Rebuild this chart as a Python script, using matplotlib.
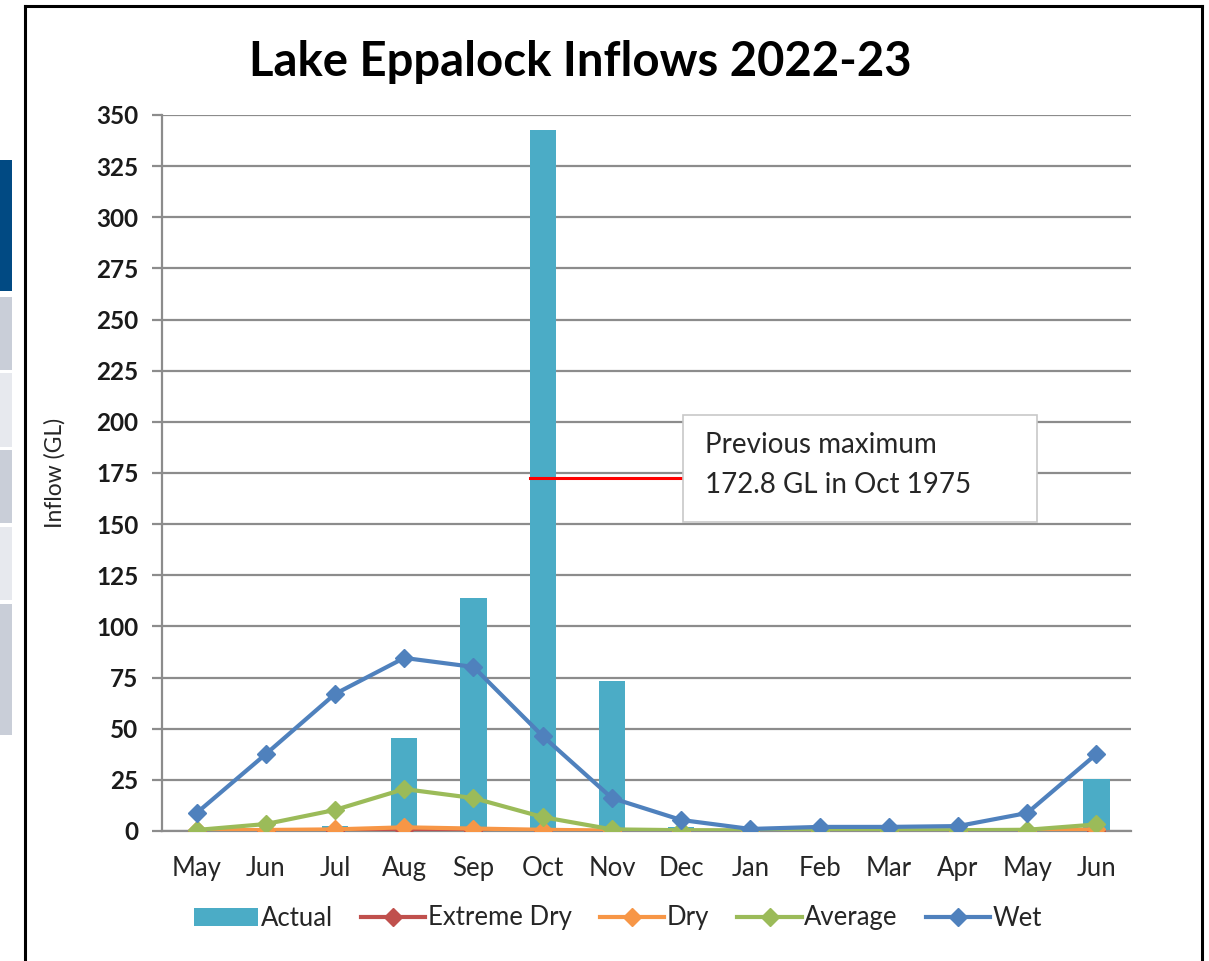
import matplotlib
matplotlib.use("Agg")
import matplotlib.pyplot as plt
from matplotlib.patches import Rectangle
from matplotlib.lines import Line2D

months = ["May", "Jun", "Jul", "Aug", "Sep", "Oct", "Nov", "Dec", "Jan", "Feb", "Mar", "Apr", "May", "Jun"]
actual = [0, 1, 2.5, 45.5, 114, 342.5, 73.5, 2, 0, 0, 0, 0, 0, 25.5]
extreme_dry = [0, 0, 0, 0.3, 0.2, 0.1, 0, 0, 0, 0, 0, 0, 0, 0.2]
dry = [0.3, 0.5, 0.8, 1.8, 1.2, 0.6, 0.2, 0.1, 0.1, 0.1, 0.1, 0.1, 0.2, 0.8]
average = [0.5, 3.4, 10.3, 20.5, 16.1, 6.8, 0.8, 0.4, 0.3, 0.3, 0.3, 0.4, 0.6, 3.2]
wet = [8.8, 37.6, 67, 84.6, 80.2, 46.4, 16.1, 5.4, 1.0, 2.0, 2.0, 2.4, 8.8, 37.6]
prev_max = 172.8
yticks = list(range(0, 351, 25))

FONT = ["Lato", "DejaVu Sans"]
plt.rcParams["font.family"] = FONT

fig = plt.figure(figsize=(12.09, 9.61), dpi=100)
W, H = 1209, 961
ax = fig.add_axes([162 / W, 1 - 831 / H, (1131 - 162) / W, (831 - 115) / H])

grid_c = "#8c8c8c"
txt_c = "#262626"
x = list(range(len(months)))
handles = [ax.bar(x, actual, width=0.38, color="#4BACC6", label="Actual", zorder=2)]
series = [("Extreme Dry", extreme_dry, "#C0504D"), ("Dry", dry, "#F79646"),
          ("Average", average, "#9BBB59"), ("Wet", wet, "#4F81BD")]
for name, vals, col in series:
    h, = ax.plot(x, vals, color=col, lw=3, marker="D", ms=9.5, label=name, zorder=3)
    handles.append(h)

ax.set_xlim(-0.5, len(months) - 0.5)
ax.set_ylim(0, 350)
ax.set_yticks(yticks)
ax.set_yticklabels([str(t) for t in yticks], fontsize=17.5, fontweight="bold", color="#1a1a1a")
ax.set_xticks(x)
ax.set_xticklabels(months, fontsize=18.5, color=txt_c)
ax.tick_params(axis="x", length=0, pad=18)
ax.tick_params(axis="y", length=7, width=1.6, color=grid_c, pad=10)
ax.yaxis.grid(True, color=grid_c, lw=1.6)
ax.set_axisbelow(True)
for s in ["top", "right"]:
    ax.spines[s].set_visible(False)
ax.spines["left"].set_color(grid_c)
ax.spines["left"].set_linewidth(1.6)
ax.spines["bottom"].set_color(grid_c)
ax.spines["bottom"].set_linewidth(1.6)

ax.set_ylabel("Inflow (GL)", fontsize=16.5, color=txt_c)
ax.yaxis.set_label_coords(-0.099, 0.5)

# previous maximum marker line and box
ax.plot([5 - 0.19, 7.03], [prev_max, prev_max], color="#FF0000", lw=2.2, zorder=4)
box = Rectangle((683 / W, 1 - 522 / H), (1037 - 683) / W, (522 - 415) / H,
                transform=fig.transFigure, facecolor="white", edgecolor="#c8c8c8",
                lw=1.2, zorder=5)
fig.add_artist(box)
fig.text(705 / W, 1 - 445 / H, "Previous maximum", fontsize=20, va="center", ha="left",
         color=txt_c, zorder=6)
fig.text(705 / W, 1 - 485 / H, "172.8 GL in Oct 1975", fontsize=20, va="center",
         ha="left", color=txt_c, zorder=6)

fig.text(580 / W, 1 - 62 / H, "Lake Eppalock Inflows 2022-23", fontsize=34,
         fontweight="bold", ha="center", va="center")

leg = ax.legend(handles=handles, labels=["Actual", "Extreme Dry", "Dry", "Average", "Wet"],
                loc="center", bbox_to_anchor=(618 / W, 1 - 918 / H),
                bbox_transform=fig.transFigure, ncol=5, frameon=False, fontsize=18.5,
                handlelength=2.5, handletextpad=0.1, columnspacing=1.1)
for t in leg.get_texts():
    t.set_color(txt_c)

# outer frame
for (x0, y0, x1, y1) in [(25, 6, 1202, 6), (25, 6, 25, 961), (1202, 6, 1202, 961)]:
    fig.add_artist(Line2D([x0 / W, x1 / W], [1 - y0 / H, 1 - y1 / H],
                          transform=fig.transFigure, color="black", lw=2.2))

# left-side strips (background of screenshot)
strips = [(160, 291, "#014A83"), (297, 370, "#C9CED8"), (373, 447, "#E7E9EE"),
          (450, 523, "#C9CED8"), (527, 600, "#E7E9EE"), (604, 735, "#C9CED8")]
for y0, y1, c in strips:
    fig.add_artist(Rectangle((0, 1 - y1 / H), 12 / W, (y1 - y0) / H,
                             transform=fig.transFigure, facecolor=c, edgecolor="none"))

fig.savefig("out.png", dpi=100)
